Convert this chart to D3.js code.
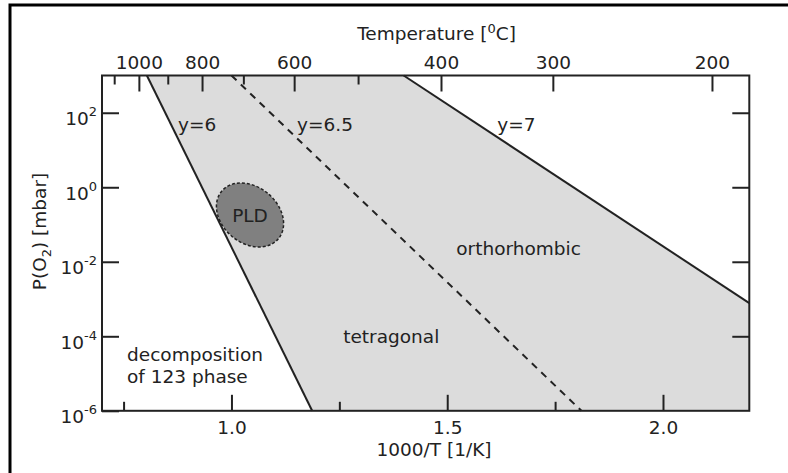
<!DOCTYPE html>
<html>
<head>
<meta charset="utf-8">
<script src="https://cdn.jsdelivr.net/npm/d3@7"></script>
<style>
  body { margin: 0; background: white; }
  svg { display: block; font-family: "DejaVu Sans", sans-serif; }
</style>
</head>
<body>
<script>
// axis ranges
const xDomain = [0.7, 2.2];          // 1000/T [1/K]
const pDomain = [1e-6, 1e3];         // P(O2) [mbar]

// tick values
const invMajor = [1.0, 1.5, 2.0];
const invMinor = [0.75, 1.25, 1.75];
const tempMajor = [1000, 800, 600, 400, 300, 200];
const tempMinor = [1100, 900, 700, 500];
const pTicks = [1e2, 1e0, 1e-2, 1e-4, 1e-6];

// phase boundaries [1000/T, P]
const lineY6 = [[0.804, 1e3], [1.187, 1e-6]];
const lineY65 = [[1.0, 1e3], [1.811, 1e-6]];
const lineY7 = [[1.399, 1e3], [2.2, Math.pow(10, -3.11)]];

// PLD window
const pld = { x: 1.043, p: 0.18 };

// region labels [text, 1000/T, P, anchor]
const labels = [
  ["y=6", 0.876, Math.pow(10, 1.51), "start"],
  ["y=6.5", 1.152, Math.pow(10, 1.51), "start"],
  ["y=7", 1.616, Math.pow(10, 1.51), "start"],
  ["orthorhombic", 1.521, Math.pow(10, -1.82), "start"],
  ["tetragonal", 1.259, Math.pow(10, -4.18), "start"],
  ["decomposition", 0.758, Math.pow(10, -4.66), "start"],
  ["of 123 phase", 0.758, Math.pow(10, -5.25), "start"]
];

const width = 788, height = 473;
const margin = { top: 75.5, right: 38.7, bottom: 62.2, left: 102 };
const fs = 18.5;
const ink = "#222";

const svg = d3.select("body").append("svg")
  .attr("width", width)
  .attr("height", height);

svg.append("rect")
  .attr("width", width).attr("height", height)
  .attr("fill", "white");

// outer frame, only top and left show in the picture
svg.append("rect")
  .attr("x", 10).attr("y", 5)
  .attr("width", 800).attr("height", 500)
  .attr("fill", "none")
  .attr("stroke", "#000")
  .attr("stroke-width", 3);

const x = d3.scaleLinear()
  .domain(xDomain)
  .range([margin.left, width - margin.right]);

const y = d3.scaleLog()
  .domain(pDomain)
  .range([height - margin.bottom, margin.top]);

const toX = t => 1000 / (t + 273.15);

const line = d3.line().x(d => x(d[0])).y(d => y(d[1]));

// tetragonal / orthorhombic region
const region = [lineY6[0], lineY7[0], lineY7[1], [xDomain[1], pDomain[0]], lineY6[1]];
svg.append("path")
  .attr("d", line(region) + "Z")
  .attr("fill", "#dcdcdc");

svg.append("path").attr("d", line(lineY6))
  .attr("fill", "none").attr("stroke", ink).attr("stroke-width", 2);
svg.append("path").attr("d", line(lineY7))
  .attr("fill", "none").attr("stroke", ink).attr("stroke-width", 2);
svg.append("path").attr("d", line(lineY65))
  .attr("fill", "none").attr("stroke", ink).attr("stroke-width", 2)
  .attr("stroke-dasharray", "7,6");

// PLD ellipse
svg.append("ellipse")
  .attr("transform", `translate(${x(pld.x)},${y(pld.p)}) rotate(40)`)
  .attr("rx", 37).attr("ry", 28)
  .attr("fill", "#808080")
  .attr("stroke", ink)
  .attr("stroke-width", 1.5)
  .attr("stroke-dasharray", "3,2");

svg.append("text")
  .attr("x", x(pld.x)).attr("y", y(pld.p))
  .attr("dy", "0.36em")
  .attr("text-anchor", "middle")
  .attr("font-size", fs).attr("fill", ink)
  .text("PLD");

svg.append("g")
  .selectAll("text")
  .data(labels)
  .join("text")
  .attr("x", d => x(d[1]))
  .attr("y", d => y(d[2]))
  .attr("text-anchor", d => d[3])
  .attr("font-size", fs)
  .attr("fill", ink)
  .text(d => d[0]);

// axes
function style(g) {
  g.select(".domain").remove();
  g.selectAll("line").attr("stroke", ink).attr("stroke-width", 2);
  g.selectAll("text").attr("font-size", fs).attr("fill", ink)
    .attr("font-family", "DejaVu Sans, sans-serif");
}

const bottomY = height - margin.bottom;

svg.append("g")
  .attr("transform", `translate(0,${bottomY})`)
  .call(d3.axisBottom(x).tickValues(invMajor).tickFormat(d3.format(".1f"))
    .tickSize(-16).tickPadding(10))
  .call(style);

svg.append("g")
  .attr("transform", `translate(0,${bottomY})`)
  .call(d3.axisBottom(x).tickValues(invMinor).tickFormat("").tickSize(-9))
  .call(style);

svg.append("g")
  .attr("transform", `translate(0,${margin.top})`)
  .call(d3.axisTop(x).tickValues(tempMajor.map(toX))
    .tickFormat(d => Math.round(1000 / d - 273.15))
    .tickSize(-16).tickPadding(7))
  .call(style);

svg.append("g")
  .attr("transform", `translate(0,${margin.top})`)
  .call(d3.axisTop(x).tickValues(tempMinor.map(toX)).tickFormat("").tickSize(-9))
  .call(style);

const leftAxis = svg.append("g")
  .attr("transform", `translate(${margin.left},0)`)
  .call(d3.axisLeft(y).tickValues(pTicks).tickFormat("").tickSize(-17).tickPadding(5))
  .call(style);

leftAxis.selectAll(".tick text")
  .attr("dy", "0.65em")
  .text("10")
  .append("tspan")
  .attr("dy", -9)
  .attr("font-size", 13)
  .text(d => Math.round(Math.log10(d)));

svg.append("g")
  .attr("transform", `translate(${width - margin.right},0)`)
  .call(d3.axisLeft(y).tickValues(pTicks.slice(0, 4)).tickFormat("").tickSize(17))
  .call(style);

// plot frame
svg.append("rect")
  .attr("x", margin.left).attr("y", margin.top)
  .attr("width", width - margin.left - margin.right)
  .attr("height", height - margin.top - margin.bottom)
  .attr("fill", "none")
  .attr("stroke", ink)
  .attr("stroke-width", 2);

// axis titles
const topTitle = svg.append("text")
  .attr("x", 436.5).attr("y", 40)
  .attr("text-anchor", "middle")
  .attr("font-size", fs).attr("fill", ink);
topTitle.append("tspan").text("Temperature [");
topTitle.append("tspan").attr("dy", -7).attr("font-size", 13).text("0");
topTitle.append("tspan").attr("dy", 7).text("C]");

svg.append("text")
  .attr("x", 434).attr("y", 456)
  .attr("text-anchor", "middle")
  .attr("font-size", fs).attr("fill", ink)
  .text("1000/T [1/K]");

const yTitle = svg.append("text")
  .attr("transform", "translate(46,231.5) rotate(-90)")
  .attr("text-anchor", "middle")
  .attr("font-size", fs).attr("fill", ink);
yTitle.append("tspan").text("P(O");
yTitle.append("tspan").attr("dy", 5).attr("font-size", 13).text("2");
yTitle.append("tspan").attr("dy", -5).text(") [mbar]");
</script>
</body>
</html>
